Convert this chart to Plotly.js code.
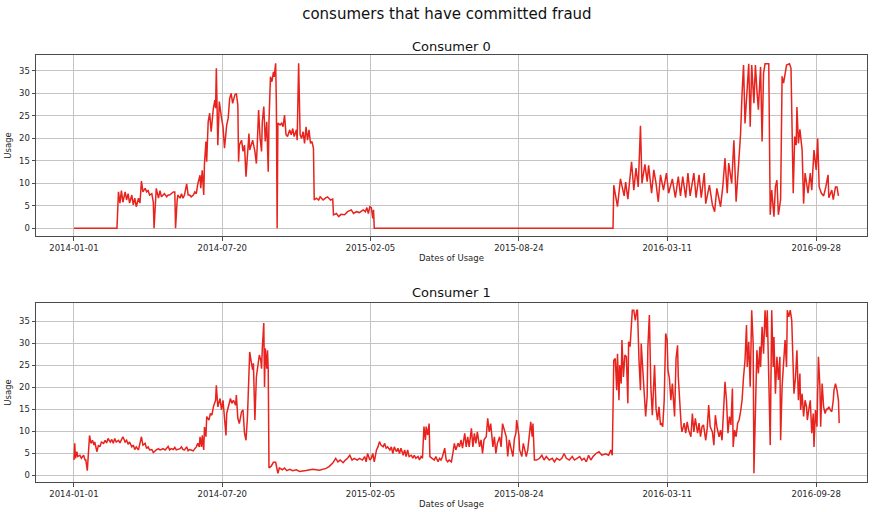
<!DOCTYPE html>
<html>
<head>
<meta charset="utf-8">
<script src="https://cdn.plot.ly/plotly-3.0.1.min.js"></script>
<style>
  html, body { margin: 0; padding: 0; background: #fff; }
  #chart { width: 878px; height: 512px; }
</style>
</head>
<body>
<div id="chart"></div>
<script>
// Daily usage of two consumers, indexed by days since the first reading.
const startDate = '2014-01-01';

const days0 = [0,58,60,62,64,66,69,71,73,75,78,80,82,84,87,89,91,93,96,98,100,102,105,107,108,110,111,114,116,118,120,122,125,127,129,131,134,136,137,139,140,143,145,147,149,152,154,156,158,161,163,165,167,170,171,173,175,176,178,179,181,183,185,188,190,191,192,194,196,199,201,203,206,208,210,212,214,217,219,221,222,223,226,228,230,232,234,236,237,239,241,244,246,247,249,251,253,254,256,258,260,262,263,265,267,269,270,272,273,274,275,278,280,282,284,286,288,291,293,295,297,300,301,303,305,307,309,311,313,315,317,319,321,323,324,327,330,332,336,339,342,346,349,350,354,357,360,365,369,374,377,381,385,390,393,395,397,399,401,403,404,405,727,728,733,737,742,744,747,752,755,758,761,764,766,770,773,775,779,782,785,788,791,795,799,802,807,811,815,818,821,825,828,831,836,839,843,846,850,852,857,861,864,867,872,875,878,881,883,887,890,893,896,899,901,903,905,908,910,912,914,917,919,921,923,926,928,930,932,935,937,939,941,944,946,948,950,953,955,957,959,961,965,967,970,972,974,975,977,979,982,984,986,990,993,995,998,1001,1003,1005,1008,1011,1014,1017,1018,1022,1024,1027,1029,1031];
const usage0 = [0,0,8.1,5.6,8.4,5.8,8.1,6.3,7.7,5.6,7.4,5.2,6.7,4.8,6.7,5.6,10.5,8.1,8.9,8.1,8.4,7.4,7.7,5.8,0,7.4,8.9,6.7,8.4,7.0,7.4,7.7,7.0,7.4,7.4,7.7,8.1,8.1,0,5.8,7.4,6.7,7.7,6.7,7.4,9.9,7.4,7.4,7.0,7.4,8.1,7.7,9.9,11.8,8.9,12.9,7.4,14.4,19.3,14.8,23.7,25.6,21.5,26.7,28.5,26.7,35.6,18.5,28.2,24.5,22.6,17.8,23.0,24.5,28.9,30.0,27.8,29.7,30.0,27.4,14.8,18.5,19.6,17.1,18.5,11.5,17.8,21.1,17.4,18.5,19.6,17.1,14.4,17.8,26.3,20.0,17.1,23.7,27.1,19.3,23.7,12.6,23.7,33.7,32.6,34.8,33.7,36.7,27.4,0,23.4,23.0,23.4,22.6,25.2,20.8,20.4,21.9,20.8,22.2,20.4,21.9,19.6,36.7,20.8,20.0,21.5,18.9,22.6,19.6,21.9,18.9,19.3,17.8,6.3,6.7,6.3,7.0,6.3,6.7,7.0,6.3,6.5,3.0,3.3,2.6,3.1,3.0,3.7,4.1,3.3,3.7,3.5,4.1,3.7,4.6,3.3,4.8,4.6,2.2,4.1,0,0,9.6,4.8,11.0,7.2,10.3,6.5,14.8,8.5,13.4,9.2,22.8,10.0,14.2,10.4,14.0,7.8,13.0,10.0,5.9,11.9,8.5,12.3,7.8,11.0,6.8,11.5,7.2,11.5,6.8,12.3,7.2,12.3,6.8,11.9,6.8,12.3,5.5,9.6,5.2,3.7,8.9,4.8,9.2,15.6,7.8,14.5,10.0,19.6,5.9,14.5,21.0,30.0,36.3,23.3,31.1,36.6,22.6,36.3,27.8,36.3,30.8,26.4,35.9,19.3,34.5,36.6,36.6,36.6,3.0,8.5,2.6,9.2,10.7,3.0,6.4,33.8,32.3,34.8,36.3,36.6,35.6,7.8,20.4,18.5,27.0,18.9,22.0,17.4,5.5,12.3,7.8,12.3,8.5,17.4,13.0,20.0,9.2,7.8,7.2,9.2,11.9,6.8,8.5,6.4,9.2,9.2,7.2];

const days1 = [0,1,2,4,5,8,10,13,15,16,18,19,21,23,25,27,28,31,33,35,37,40,42,44,46,49,51,53,55,57,60,62,64,66,69,71,73,75,78,80,82,84,87,89,91,93,96,98,100,102,105,107,109,111,114,116,118,120,123,125,127,129,131,134,136,138,140,143,145,147,149,152,154,156,158,161,163,165,167,169,170,172,173,175,176,178,179,182,184,186,188,191,192,194,197,199,201,203,205,206,209,211,213,215,218,219,221,223,226,228,230,232,234,236,237,239,241,242,244,246,248,250,252,253,254,256,257,258,260,261,262,263,266,269,272,275,277,281,284,287,291,295,300,304,313,322,331,340,344,349,353,356,359,363,366,369,372,375,378,382,385,389,392,394,396,399,401,403,405,408,410,412,414,417,419,421,423,426,428,430,432,435,437,439,441,444,446,448,450,452,455,457,459,461,464,466,468,470,472,474,475,477,479,480,483,486,488,491,493,495,497,500,502,504,506,509,511,513,515,518,520,522,524,527,529,531,533,536,538,540,542,544,547,549,551,553,556,558,560,562,565,567,569,571,574,576,578,580,583,585,587,589,592,594,596,597,600,601,604,606,610,612,614,616,618,619,621,624,628,631,634,637,641,645,648,651,655,658,661,664,668,672,675,678,682,685,688,691,694,697,700,704,708,712,717,721,724,726,728,730,732,733,735,736,738,739,741,743,745,747,748,750,752,753,755,757,759,760,762,764,765,767,769,771,773,774,776,778,780,782,783,785,787,789,791,792,794,796,798,800,801,803,805,807,809,810,812,814,815,817,819,820,823,825,827,829,832,834,836,838,841,843,845,847,849,852,854,856,858,861,863,865,867,870,872,874,876,878,880,882,884,886,888,889,891,893,895,897,899,901,903,905,907,908,910,912,914,916,917,919,921,923,925,926,928,930,932,934,935,937,939,941,943,944,946,948,950,952,953,955,957,959,961,962,964,966,968,970,971,973,975,977,979,980,982,984,986,988,989,991,993,995,997,998,1000,1002,1004,1006,1007,1009,1011,1013,1015,1016,1018,1020,1022,1024,1025,1027,1029,1031,1032];
const usage1 = [3.4,7.2,3.8,5.3,4.2,4.5,3.8,4.5,3.4,3.4,1.0,4.2,9.0,7.2,7.9,6.8,7.5,5.3,6.8,6.4,7.5,7.2,7.9,7.3,8.3,7.5,8.1,7.2,8.3,7.5,7.9,7.3,8.1,8.7,7.5,7.9,7.0,7.5,6.4,6.8,5.8,6.4,5.7,7.2,8.7,6.8,7.2,6.0,6.4,5.7,5.8,5.1,5.5,5.7,6.0,5.7,5.8,6.0,5.7,6.0,6.5,5.7,6.0,5.8,6.3,5.7,5.8,6.0,6.4,5.8,5.7,6.4,5.5,5.8,5.7,5.5,6.0,6.4,7.2,6.4,8.7,6.4,9.0,5.7,10.9,8.7,13.3,12.5,14.0,13.6,15.5,17.0,20.4,15.5,17.4,14.8,17.0,11.7,9.0,14.0,16.3,17.4,16.3,17.0,15.9,18.2,12.9,11.7,14.4,14.8,9.5,7.9,13.3,22.3,28.0,25.8,23.9,25.4,12.5,22.3,24.6,27.3,26.1,24.2,28.8,34.6,20.0,28.8,24.2,28.4,23.9,1.6,2.0,2.9,2.9,0.4,1.6,1.2,1.6,1.0,1.3,1.0,1.2,0.8,1.0,1.3,1.1,1.5,1.9,2.7,3.8,3.0,3.4,2.8,3.4,3.8,4.5,3.4,3.8,3.4,3.8,3.4,4.2,3.0,4.9,3.4,3.8,4.9,3.0,5.7,6.4,7.6,6.8,6.4,7.2,6.1,6.4,5.7,6.4,4.9,6.4,5.3,6.1,4.9,6.1,4.5,5.7,4.2,5.7,4.2,4.5,3.8,4.5,3.8,4.2,3.4,4.2,3.8,11.0,8.0,11.0,9.1,11.7,4.2,3.8,3.4,4.2,3.0,3.8,3.4,4.2,6.1,3.4,3.0,3.4,3.0,4.9,7.2,5.7,7.2,6.4,8.0,6.1,9.5,6.4,8.7,6.4,10.6,6.4,9.5,7.2,9.8,6.4,8.0,4.9,8.0,8.7,12.9,9.8,11.7,6.4,8.7,4.9,7.2,8.7,6.4,11.7,10.6,8.7,4.2,8.0,6.4,4.2,8.3,9.5,12.5,9.1,5.7,4.2,7.2,4.2,5.7,9.5,12.1,8.7,11.7,3.4,3.4,3.8,4.5,3.4,4.2,3.4,3.8,3.0,3.8,3.4,3.8,4.9,3.8,3.4,4.2,3.4,3.8,4.2,3.4,3.8,3.0,4.5,3.4,4.2,4.9,5.3,4.5,4.8,4.5,5.7,4.5,26.1,26.5,19.3,27.6,17.0,25.0,20.8,30.7,22.3,27.3,26.9,16.3,30.3,29.2,37.5,37.5,37.5,35.2,37.5,37.5,26.1,19.3,29.9,24.6,17.8,13.3,17.8,29.2,36.4,20.1,13.6,20.8,25.0,15.1,12.5,15.5,11.4,11.8,11.0,17.0,32.2,30.7,23.9,22.0,17.0,20.8,17.0,13.3,26.5,29.5,22.3,15.5,11.0,9.8,11.8,9.5,12.1,10.2,8.7,14.0,9.8,12.9,9.5,11.8,8.7,11.0,11.4,7.9,10.6,15.9,11.0,9.8,6.8,13.6,11.0,8.7,10.2,7.9,13.3,21.2,17.0,9.5,13.3,11.4,19.7,6.4,10.2,8.7,11.8,12.5,14.4,17.0,22.3,26.1,34.1,24.6,30.3,20.1,37.5,29.9,0.4,18.5,28.4,23.1,29.2,24.6,33.7,27.6,37.5,31.4,37.5,22.3,6.8,37.5,24.6,31.4,18.5,26.9,21.6,26.9,7.9,20.1,24.6,30.7,24.6,37.5,36.0,37.5,35.2,23.1,18.5,22.0,28.4,17.0,23.1,14.8,18.5,13.3,17.0,15.5,12.5,14.8,17.0,9.5,14.0,6.4,14.8,11.0,26.9,20.1,11.0,20.8,15.5,14.0,15.1,14.8,15.5,14.8,14.4,17.0,19.3,20.8,19.3,17.0,11.8];

// Date ticks on the x axes (days since the first reading) and their labels.
const tickDays = [0, 200, 400, 600, 800, 1001];
const tickLabels = ['2014-01-01', '2014-07-20', '2015-02-05', '2015-08-24', '2016-03-11', '2016-09-28'];

const consumerNames = ['Consumer 0', 'Consumer 1'];
const figureTitle = 'consumers that have committed fraud';
const xLabel = 'Dates of Usage';
const yLabel = 'Usage';

const DAY = 86400000;
const t0 = Date.parse(startDate + 'T00:00:00Z');
function toDate(offset) {
  const d = new Date(t0 + offset * DAY);
  const p = n => String(n).padStart(2, '0');
  return d.getUTCFullYear() + '-' + p(d.getUTCMonth() + 1) + '-' + p(d.getUTCDate()) +
         ' ' + p(d.getUTCHours()) + ':' + p(d.getUTCMinutes());
}

const lineColor = '#e8231d';
const traces = [
  { x: days0.map(toDate), y: usage0, xaxis: 'x', yaxis: 'y' },
  { x: days1.map(toDate), y: usage1, xaxis: 'x2', yaxis: 'y2' }
].map(t => Object.assign(t, {
  type: 'scatter', mode: 'lines', showlegend: false,
  line: { color: lineColor, width: 1.5 }, hoverinfo: 'skip'
}));

const textColor = '#262626';
const frameColor = '#4a4a4a';
const gridColor = '#c4c4c4';
const tickFont = { family: 'DejaVu Sans', size: 8.5, color: textColor };
const labelFont = { family: 'DejaVu Sans', size: 8.5, color: textColor };

function xAxis(anchor) {
  return {
    type: 'date', anchor: anchor,
    domain: [0, 1],
    range: [toDate(-51.2), toDate(1069.5)],
    tickmode: 'array', tickvals: tickDays.map(toDate), ticktext: tickLabels,
    showgrid: true, gridcolor: gridColor, gridwidth: 1,
    showline: true, mirror: true, linecolor: frameColor, linewidth: 1,
    ticks: 'outside', ticklen: 3.5, tickcolor: frameColor, tickwidth: 1,
    tickfont: tickFont, zeroline: false,
    title: { text: xLabel, font: labelFont, standoff: 3 },
    automargin: false
  };
}
function yAxis(domain, anchor, range) {
  return {
    domain: domain, anchor: anchor, range: range,
    tick0: 0, dtick: 5,
    showgrid: true, gridcolor: gridColor, gridwidth: 1,
    showline: true, mirror: true, linecolor: frameColor, linewidth: 1,
    ticks: 'outside', ticklen: 3.5, tickcolor: frameColor, tickwidth: 1,
    tickfont: tickFont, zeroline: false,
    title: { text: yLabel, font: labelFont, standoff: 5 },
    automargin: false
  };
}

const layout = {
  width: 878, height: 512,
  margin: { l: 36, r: 11, t: 0, b: 0 },
  paper_bgcolor: '#ffffff', plot_bgcolor: '#ffffff',
  title: {
    text: figureTitle, xref: 'container', x: 0.509, xanchor: 'center',
    yref: 'container', y: 1 - 14 / 512, yanchor: 'middle',
    font: { family: 'DejaVu Sans', size: 15, color: '#111' }
  },
  xaxis: xAxis('y'),
  yaxis: yAxis([1 - 236 / 512, 1 - 55 / 512], 'x', [-1.71, 38.55]),
  xaxis2: xAxis('y2'),
  yaxis2: yAxis([1 - 482.3 / 512, 1 - 302.7 / 512], 'x2', [-1.66, 39.2]),
  annotations: [
    { text: consumerNames[0], xref: 'paper', yref: 'paper', x: 0.5, y: 1 - 46 / 512,
      xanchor: 'center', yanchor: 'middle', showarrow: false,
      font: { family: 'DejaVu Sans', size: 13, color: '#111' } },
    { text: consumerNames[1], xref: 'paper', yref: 'paper', x: 0.5, y: 1 - 292 / 512,
      xanchor: 'center', yanchor: 'middle', showarrow: false,
      font: { family: 'DejaVu Sans', size: 13, color: '#111' } }
  ]
};

Plotly.newPlot('chart', traces, layout, { staticPlot: true, displayModeBar: false });
</script>
</body>
</html>
